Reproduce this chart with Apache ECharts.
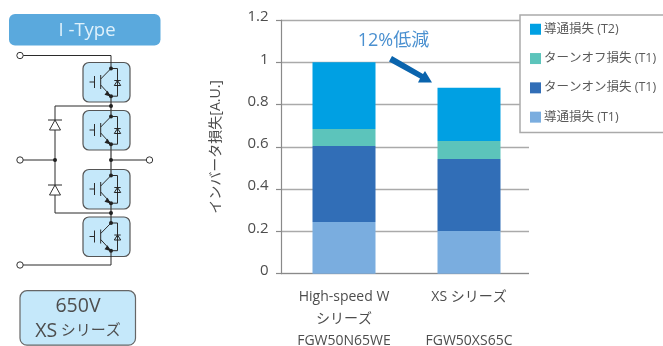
<!DOCTYPE html>
<html><head><meta charset="utf-8">
<style>html,body{margin:0;padding:0;background:#fff}#c{width:663px;height:346px}</style>
<script src="https://cdn.jsdelivr.net/npm/echarts@6/dist/echarts.min.js"></script>
</head><body><div id="c"></div>
<script>
const FONT = '"Open Sans","Noto Sans CJK JP",sans-serif';
const categories = ['High-speed W\nシリーズ\nFGW50N65WE', 'XS シリーズ\n\nFGW50XS65C'];
const condT1 = [0.245, 0.202];
const turnOnT1 = [0.359, 0.341];
const turnOffT1 = [0.081, 0.085];
const condT2 = [0.315, 0.251];
const seriesNames = ['導通損失 (T1)', 'ターンオン損失 (T1)', 'ターンオフ損失 (T1)', '導通損失 (T2)'];
const seriesColors = ['#7aaddf', '#316eb7', '#5cc4bb', '#00a0e3'];
const seriesValues = [condT1, turnOnT1, turnOffT1, condT2];
const yTitle = 'インバータ損失[A.U.]';
const note = '12%低減';

const WIRE = '#2b2b2b', EDGE = '#555', BOX = '#c5e8fa', TXT = '#4d4d4d';
const g = [];
const line = (pts, color = WIRE, w = 1) => g.push({type: 'polyline', z: 10, shape: {points: pts}, style: {stroke: color, lineWidth: w, fill: null}});
const dot = (x, y, r = 2) => g.push({type: 'circle', z: 12, shape: {cx: x, cy: y, r}, style: {fill: '#222'}});
const term = (x, y) => g.push({type: 'circle', z: 12, shape: {cx: x, cy: y, r: 3.2}, style: {fill: '#fff', stroke: '#333', lineWidth: 1}});
const tri = (pts, fill, stroke) => g.push({type: 'polygon', z: 12, shape: {points: pts}, style: {fill, stroke: stroke || null, lineWidth: 1}});

function igbt(top) {
  const a = top + 6, b = top + 33.7, m = top + 19.5;
  g.push({type: 'rect', z: 5, shape: {x: 83, y: top, width: 47, height: 39.5, r: 6}, style: {fill: BOX, stroke: EDGE, lineWidth: 1.2}});
  line([[89.5, m], [94.5, m]]);
  line([[94.5, m - 6], [94.5, m + 6]]);
  line([[100.7, m - 7], [100.7, m + 7]]);
  line([[100.7, m - 3], [111, a]]);
  line([[100.7, m + 3], [111, b]]);
  tri([[111, b + 0.5], [104.5, b - 1.5], [107.5, b - 5.5]], '#222');
  line([[111, a], [117.5, a], [117.5, b], [111, b]]);
  tri([[114.3, m + 3.5], [120.7, m + 3.5], [117.5, m - 1.5]], 'none', '#222');
  line([[114.3, m - 1.5], [120.7, m - 1.5]]);
  dot(111, a); dot(111, b);
}
[62.5, 110.5, 169.5, 217].forEach(igbt);
line([[111, 96], [111, 116.5]], '#444', 1.3);
line([[111, 144], [111, 175.5]], '#444', 1.3);
line([[111, 202.7], [111, 222.7]], '#444', 1.3);
line([[20, 55.5], [111, 55.5], [111, 68.5]]);
line([[20, 265], [111, 265], [111, 250.7]]);
line([[111, 106], [55, 106], [55, 213], [111, 213]]);
line([[20, 160], [55, 160]]);
line([[111, 160], [149.5, 160]]);
[[55, 160], [111, 106], [111, 160], [111, 213]].forEach(p => dot(p[0], p[1]));
[[20, 55.5], [20, 160], [149.5, 160], [20, 265]].forEach(p => term(p[0], p[1]));
[120, 185].forEach(y => {
  tri([[55, y], [49.5, y + 10], [60.5, y + 10]], '#fff', '#333');
  line([[48, y], [62, y]]);
});

g.push({type: 'rect', z: 5, shape: {x: 9, y: 14, width: 151.5, height: 31.5, r: 6}, style: {fill: '#5aa9dd'}});
g.push({type: 'text', z: 6, x: 87, y: 31, style: {text: 'I -Type', fill: '#dff1fb', fontFamily: FONT, fontSize: 18.5, align: 'center', verticalAlign: 'middle'}});
g.push({type: 'rect', z: 5, shape: {x: 20, y: 290.7, width: 115.5, height: 54.5, r: 7}, style: {fill: BOX, stroke: '#666', lineWidth: 1.2}});
g.push({type: 'text', z: 6, x: 78, y: 306, style: {text: '650V', fill: TXT, fontFamily: FONT, fontSize: 19.5, align: 'center', verticalAlign: 'middle'}});
g.push({type: 'text', z: 6, x: 78, y: 331, style: {
  text: '{a|XS} {b|シリーズ}', align: 'center', verticalAlign: 'middle',
  rich: {a: {fill: TXT, fontFamily: FONT, fontSize: 19.5}, b: {fill: TXT, fontFamily: FONT, fontSize: 15}}}});

g.push({type: 'rect', z: 3, shape: {x: 529, y: 140, width: 8, height: 140}, style: {fill: '#fff'}});
g.push({type: 'text', z: 8, x: 393.5, y: 41, style: {text: note, fill: '#4a90d0', fontFamily: FONT, fontSize: 18, align: 'center', verticalAlign: 'middle'}});
g.push({type: 'polygon', z: 8, shape: {points: [[392, 56], [389, 61.5], [420, 78.5], [418, 82.5], [432, 82.5], [425, 71], [423, 74]]}, style: {fill: '#0a64ad'}});

const chart = echarts.init(document.getElementById('c'), null, {renderer: 'canvas'});
chart.setOption({
  animation: false,
  backgroundColor: '#fff',
  textStyle: {fontFamily: FONT},
  grid: {left: 281.5, top: 20, width: 250, height: 253.7, outerBoundsMode: 'none', containLabel: false},
  legend: {
    left: 520, top: 15, orient: 'vertical', icon: 'rect', itemWidth: 11, itemHeight: 11, itemGap: 16.8,
    padding: [8, 12, 9, 10], backgroundColor: '#fff', borderColor: '#aaa', borderWidth: 1.5, borderRadius: 0, z: 20,
    data: seriesNames.slice().reverse(), selectedMode: false,
    textStyle: {color: '#5a5a5a', fontSize: 12.5, fontFamily: FONT, padding: [0, 0, 0, -2]}
  },
  xAxis: {
    type: 'category', data: categories,
    axisLine: {lineStyle: {color: '#8a8a8a', width: 1.2}}, axisTick: {show: false},
    axisLabel: {color: TXT, fontSize: 14, lineHeight: 22, margin: 12, interval: 0}
  },
  yAxis: {
    type: 'value', min: 0, max: 1.2, interval: 0.2,
    name: yTitle, nameLocation: 'middle', nameRotate: 90, nameGap: 58,
    nameTextStyle: {color: TXT, fontSize: 14, fontFamily: FONT},
    axisLine: {show: true, lineStyle: {color: '#8a8a8a', width: 1.2}},
    axisTick: {show: true, length: 5.5, lineStyle: {color: '#8a8a8a', width: 1.2}},
    axisLabel: {margin: 13, formatter: '{t|{value}}', rich: {t: {color: TXT, fontSize: 15, fontFamily: FONT, padding: [0, 0, 6, 0]}}},
    splitLine: {lineStyle: {color: '#aaa', width: 1.3}}
  },
  series: seriesNames.map((name, i) => ({
    name, type: 'bar', stack: 'loss', barWidth: 63, data: seriesValues[i],
    itemStyle: {color: seriesColors[i]}, z: 2
  })),
  graphic: {elements: g}
});
</script></body></html>
